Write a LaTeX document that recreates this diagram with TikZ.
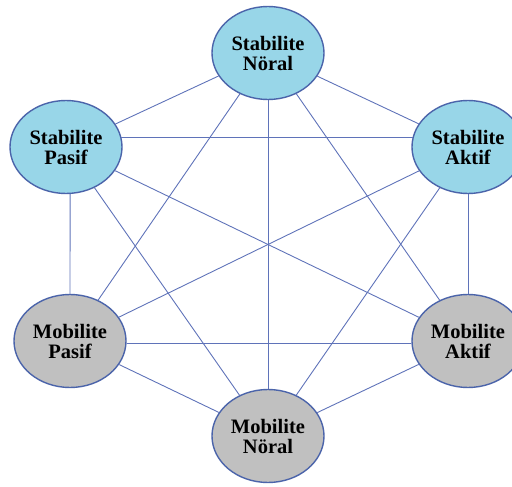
\documentclass[tikz,border=0pt]{standalone}
\usepackage{fontspec}
\setmainfont{Liberation Serif}
\usetikzlibrary{shapes.geometric}
\definecolor{edgecol}{RGB}{95,115,185}
\definecolor{rimcol}{RGB}{75,100,170}
\definecolor{stabfill}{RGB}{152,214,232}
\definecolor{mobfill}{RGB}{192,192,192}
\tikzset{
  bub/.style={ellipse, draw=rimcol, line width=1.4pt, minimum width=112pt, minimum height=93pt, inner sep=0pt,
    align=center, font=\fontsize{20.5}{20}\selectfont\bfseries},
  stab/.style={bub, fill=stabfill},
  mob/.style={bub, fill=mobfill},
  link/.style={draw=edgecol, line width=0.9pt}
}
\begin{document}
\begin{tikzpicture}[x=1pt,y=-1pt]
\useasboundingbox (0,0) rectangle (512,487);
\node[stab] (sn) at (268,53) {Stabilite\\Nöral};
\node[stab] (sp) at (66,147) {Stabilite\\Pasif};
\node[stab] (sa) at (468,147) {Stabilite\\Aktif};
\node[mob] (mp) at (70,341) {Mobilite\\Pasif};
\node[mob] (ma) at (468,341) {Mobilite\\Aktif};
\node[mob] (mn) at (268,436) {Mobilite\\Nöral};
\foreach \a/\b in {sn/sp, sn/sa, sn/mp, sn/mn, sn/ma,
                   sp/mn, sp/ma,
                   sa/mp, sa/mn, sa/ma,
                   mp/mn, ma/mn}
  \path[link] (\a) -- (\b);
\path[link] (sp.10) -- (sa.170);
\path[link] (sp.-85) -- (mp.north);
\path[link] (mp.-2) -- (ma.182);
\end{tikzpicture}
\end{document}
